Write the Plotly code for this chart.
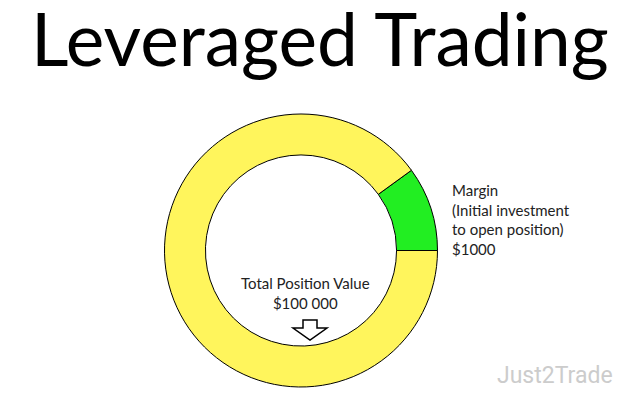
import plotly.graph_objects as go

# Data (slice shares of the ring)
slice_labels = ["Margin", "Rest of position"]
slice_values = [10, 90]
slice_colors = ["#22EE22", "#FFF55C"]

title_text = "Leveraged Trading"
margin_label = "Margin<br>(Initial investment<br>to open position)<br>$1000"
total_label = "Total Position Value<br>$100 000"
watermark = "Just2Trade"

W, H = 637, 403
OFF = 8  # page body margin
def px(x):
    return (x - OFF) / W
def py(y):
    return 1 - (y - OFF) / H

cx, cy, r = 301, 250.5, 136.5

fig = go.Figure(go.Pie(
    labels=slice_labels,
    values=slice_values,
    marker=dict(colors=slice_colors, line=dict(color="black", width=1)),
    hole=0.70,
    sort=False,
    direction="clockwise",
    rotation=54,
    textinfo="none",
    hoverinfo="label+percent",
    showlegend=False,
    domain=dict(x=[px(cx - r), px(cx + r)], y=[py(cy + r), py(cy - r)]),
))

fig.add_annotation(text=title_text, x=px(320), y=py(38), xref="paper", yref="paper",
                   xanchor="center", yanchor="middle", showarrow=False,
                   font=dict(family="Lato", size=73, color="black"))
fig.add_annotation(text=margin_label, x=px(450), y=py(179), xref="paper", yref="paper",
                   xanchor="left", yanchor="top", align="left", showarrow=False,
                   font=dict(family="Lato", size=15, color="#222222"))
fig.add_annotation(text=total_label, x=px(305), y=py(272), xref="paper", yref="paper",
                   xanchor="center", yanchor="top", align="center", showarrow=False,
                   font=dict(family="Lato", size=15, color="#222222"))
fig.add_annotation(text=watermark, x=px(555), y=py(375), xref="paper", yref="paper",
                   xanchor="center", yanchor="middle", showarrow=False,
                   font=dict(family="Roboto", size=23, color="#CCCCCC"))

# hollow down arrow (decoration)
ax = [(303, 320), (317, 320), (317, 328), (327, 328), (310, 340), (293, 328), (303, 328)]
path = "M " + " L ".join(f"{px(x)},{py(y)}" for x, y in ax) + " Z"
fig.add_shape(type="path", path=path, xref="paper", yref="paper",
              line=dict(color="black", width=1.5), fillcolor="white")

fig.update_layout(width=W, height=H, margin=dict(l=0, r=0, t=0, b=0),
                  paper_bgcolor="white", plot_bgcolor="white")
fig.write_html("out.html")
